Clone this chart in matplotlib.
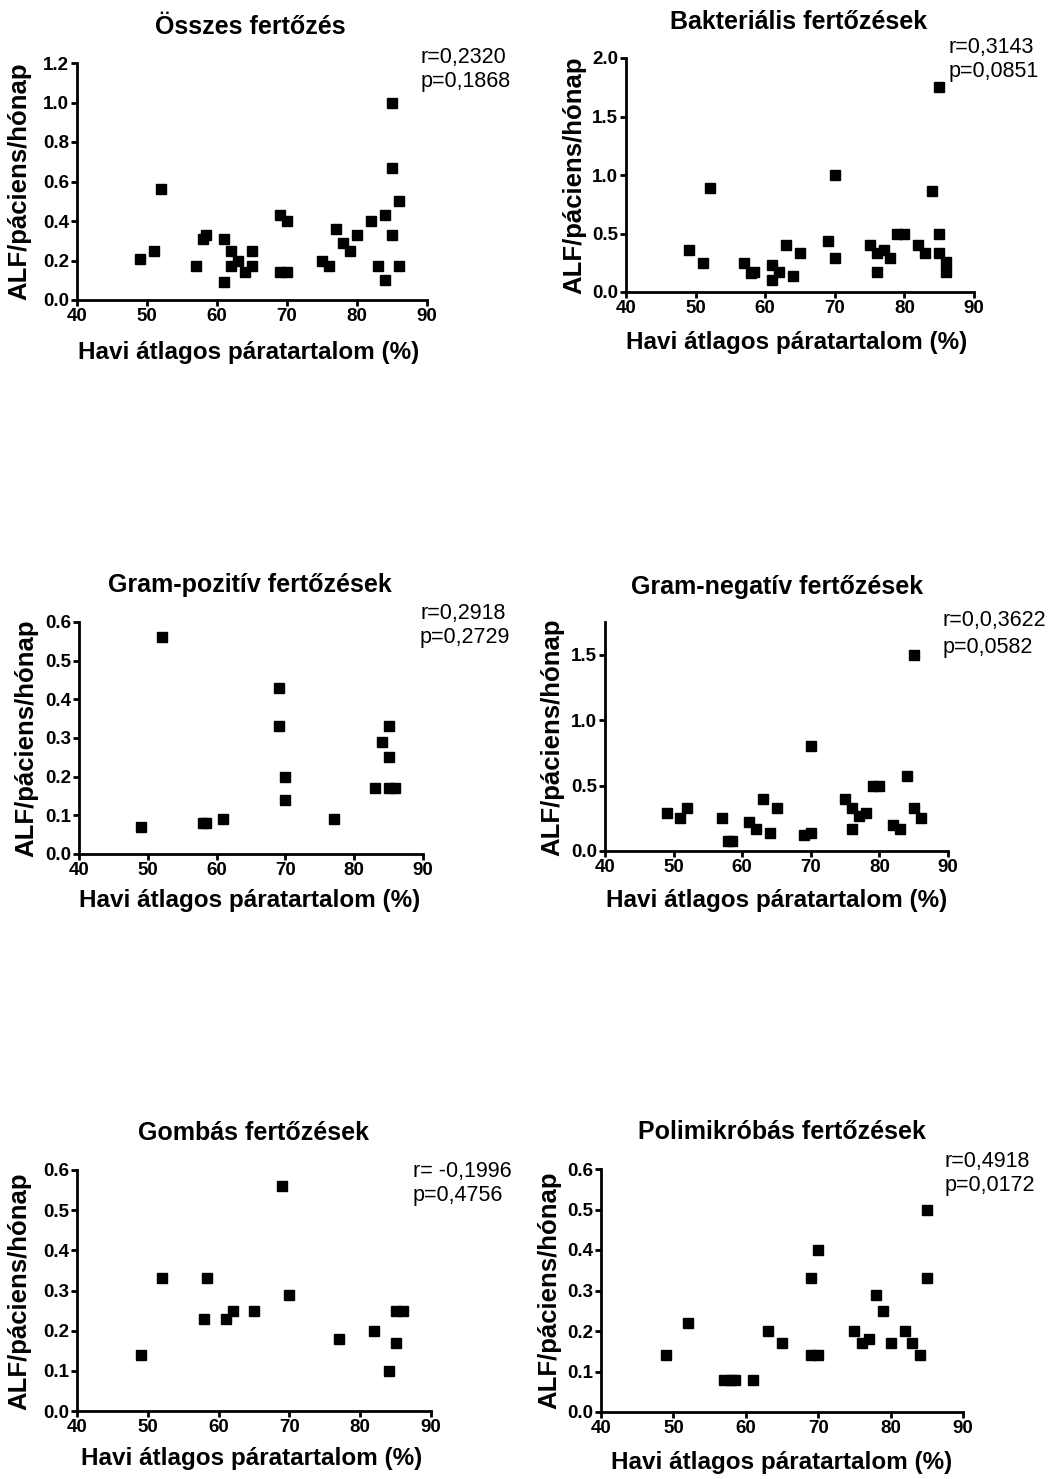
import matplotlib
matplotlib.use("Agg")
import matplotlib.pyplot as plt

plt.rcParams['font.family'] = ['Liberation Sans', 'DejaVu Sans']

# ---------------- data ----------------
titles = ["Összes fertőzés", "Bakteriális fertőzések", "Gram-pozitív fertőzések",
          "Gram-negatív fertőzések", "Gombás fertőzések", "Polimikróbás fertőzések"]
stats_r = ["r=0,2320", "r=0,3143", "r=0,2918", "r=0,0,3622", "r= -0,1996", "r=0,4918"]
stats_p = ["p=0,1868", "p=0,0851", "p=0,2729", "p=0,0582", "p=0,4756", "p=0,0172"]
xlabel = "Havi átlagos páratartalom (%)"
ylabel = "ALF/páciens/hónap"
xticks = [40, 50, 60, 70, 80, 90]

osszes_x = [49, 51, 52, 57, 58, 58.4, 61, 61, 62, 62, 63, 64, 65, 65, 69, 69, 70, 70,
            75, 76, 77, 78, 79, 80, 82, 83, 84, 84, 85, 85, 85, 86, 86]
osszes_y = [0.21, 0.25, 0.56, 0.17, 0.31, 0.33, 0.31, 0.09, 0.25, 0.17, 0.20, 0.14, 0.25, 0.17,
            0.43, 0.14, 0.40, 0.14, 0.20, 0.17, 0.36, 0.29, 0.25, 0.33, 0.40, 0.17, 0.43, 0.10,
            1.00, 0.67, 0.33, 0.50, 0.17]

bakt_x = [49, 51, 52, 57, 58, 58.4, 61, 61, 62, 63, 64, 65, 69, 70, 70, 75, 76, 76, 77, 78,
          79, 80, 82, 83, 84, 85, 85, 85, 86, 86]
bakt_y = [0.36, 0.25, 0.89, 0.25, 0.16, 0.17, 0.23, 0.10, 0.17, 0.40, 0.14, 0.33, 0.44, 1.00,
          0.29, 0.40, 0.17, 0.33, 0.36, 0.29, 0.50, 0.50, 0.40, 0.33, 0.86, 1.75, 0.50, 0.33,
          0.26, 0.17]

gpoz_x = [49, 52, 58, 58.5, 61, 69, 69, 70, 70, 77, 83, 84, 85, 85, 85, 86]
gpoz_y = [0.07, 0.56, 0.08, 0.08, 0.09, 0.43, 0.33, 0.20, 0.14, 0.09, 0.17, 0.29, 0.33, 0.25,
          0.17, 0.17]

gneg_x = [49, 51, 52, 57, 58, 58.5, 61, 62, 63, 64, 65, 69, 70, 70, 75, 76, 76, 77, 78, 79,
          80, 82, 83, 84, 85, 85, 86]
gneg_y = [0.29, 0.25, 0.33, 0.25, 0.08, 0.08, 0.22, 0.17, 0.40, 0.14, 0.33, 0.12, 0.14, 0.80,
          0.40, 0.33, 0.17, 0.27, 0.29, 0.50, 0.50, 0.20, 0.17, 0.57, 1.50, 0.33, 0.25]

gomb_x = [49, 52, 58, 58.4, 61, 62, 65, 69, 70, 77, 82, 84, 85, 85, 86]
gomb_y = [0.14, 0.33, 0.23, 0.33, 0.23, 0.25, 0.25, 0.56, 0.29, 0.18, 0.20, 0.10, 0.17, 0.25,
          0.25]

poli_x = [49, 52, 57, 58, 58.5, 61, 63, 65, 69, 69, 70, 70, 75, 76, 77, 78, 79, 80, 82, 83,
          84, 85, 85]
poli_y = [0.14, 0.22, 0.08, 0.08, 0.08, 0.08, 0.20, 0.17, 0.33, 0.14, 0.40, 0.14, 0.20, 0.17,
          0.18, 0.29, 0.25, 0.17, 0.20, 0.17, 0.14, 0.50, 0.33]

series_x = [osszes_x, bakt_x, gpoz_x, gneg_x, gomb_x, poli_x]
series_y = [osszes_y, bakt_y, gpoz_y, gneg_y, gomb_y, poli_y]
ymaxes = [1.2, 2.0, 0.6, 1.75, 0.6, 0.6]
yticks_list = [[0.0, 0.2, 0.4, 0.6, 0.8, 1.0, 1.2],
               [0.0, 0.5, 1.0, 1.5, 2.0],
               [0.0, 0.1, 0.2, 0.3, 0.4, 0.5, 0.6],
               [0.0, 0.5, 1.0, 1.5],
               [0.0, 0.1, 0.2, 0.3, 0.4, 0.5, 0.6],
               [0.0, 0.1, 0.2, 0.3, 0.4, 0.5, 0.6]]

# ---------------- layout (pixels) ----------------
W, H = 1051, 1479
fig = plt.figure(figsize=(W / 100, H / 100), dpi=100)
fig.patch.set_facecolor("white")

def fx(x):
    return x / W

def fy(y):
    return 1 - y / H

# axes boxes: left, right, bottom(y px), top(y px)
boxes = [(77, 427, 300, 63), (626, 974, 292, 58), (79, 423, 854, 622),
         (605, 948, 851, 622), (77, 431, 1411, 1170), (601, 963, 1412, 1169)]
title_pos = [(250, 27), (799, 22), (250, 585), (777, 587), (253, 1133), (782, 1132)]
ann_pos = [(421, 58, 82), (949, 48, 72), (420, 613, 638), (943, 621, 647),
           (413, 1172, 1196), (945, 1162, 1185)]
xlab_pos = [(249, 352), (797, 342), (250, 900), (777, 900), (252, 1458), (782, 1462)]
ylab_pos = [(19, 181), (574, 175), (26, 738), (552, 737), (19, 1291), (549, 1290)]

for i in range(6):
    l, r, b, t = boxes[i]
    ax = fig.add_axes([fx(l), fy(b), (r - l) / W, (b - t) / H])
    ax.plot(series_x[i], series_y[i], linestyle="none", marker="s", ms=7.5,
            color="black", clip_on=False)
    ax.set_xlim(40, 90)
    ax.set_ylim(0, ymaxes[i])
    ax.set_xticks(xticks)
    ax.set_yticks(yticks_list[i])
    ax.set_xticklabels([str(v) for v in xticks])
    ax.set_yticklabels([f"{v:.1f}" for v in yticks_list[i]])
    for s in ["top", "right"]:
        ax.spines[s].set_visible(False)
    for s in ["left", "bottom"]:
        ax.spines[s].set_linewidth(2)
    ax.tick_params(direction="out", length=4, width=2, pad=1.5, labelsize=13.5)
    for lab in ax.get_xticklabels() + ax.get_yticklabels():
        lab.set_fontweight("bold")
    ax.set_facecolor("none")

    tx, ty = title_pos[i]
    fig.text(fx(tx), fy(ty), titles[i], ha="center", va="center",
             fontsize=18, fontweight="bold")
    ax_, ry, py = ann_pos[i]
    fig.text(fx(ax_), fy(ry), stats_r[i], ha="left", va="center", fontsize=15.5)
    fig.text(fx(ax_), fy(py), stats_p[i], ha="left", va="center", fontsize=15.5)
    xx, xy = xlab_pos[i]
    fig.text(fx(xx), fy(xy), xlabel, ha="center", va="center",
             fontsize=17.5, fontweight="bold")
    yx, yy = ylab_pos[i]
    fig.text(fx(yx), fy(yy), ylabel, ha="center", va="center", rotation=90,
             fontsize=18.5, fontweight="bold")

fig.savefig("out.png", dpi=100, facecolor="white")
